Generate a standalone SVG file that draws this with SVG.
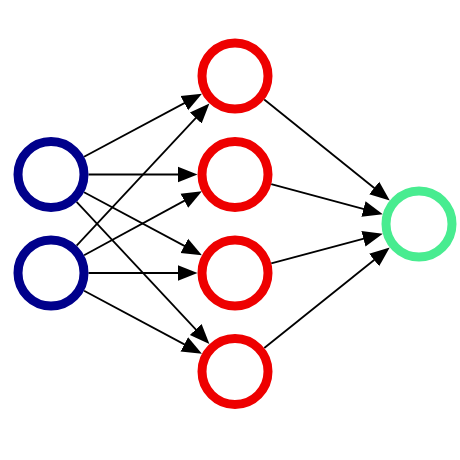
<svg xmlns="http://www.w3.org/2000/svg" width="460" height="460" viewBox="0 0 460 460">
<style>
.n{fill:#fff;stroke-width:9}
.in{stroke:#00008b}
.hid{stroke:#ee0000}
.out{stroke:#48ec90}
.e{stroke:#000;stroke-width:1.8;fill:none;marker-end:url(#ah)}
</style>
<defs>
<marker id="ah" markerUnits="userSpaceOnUse" markerWidth="22" markerHeight="18" viewBox="0 -9 22 18" refX="16" refY="0" orient="auto">
<path d="M0,-8 L20,0 L0,8 z" fill="#000"/>
</marker>
</defs>
<rect width="460" height="460" fill="#fff"/>
<g id="connectors">
<line class="e" x1="84.06" y1="156.80" x2="198.41" y2="95.59"/>
<line class="e" x1="88.5" y1="174.5" x2="193.5" y2="174.5"/>
<line class="e" x1="84.06" y1="192.20" x2="198.41" y2="253.41"/>
<line class="e" x1="76.60" y1="201.91" x2="206.67" y2="341.17"/>
<line class="e" x1="76.60" y1="245.59" x2="206.67" y2="106.33"/>
<line class="e" x1="84.06" y1="255.30" x2="198.41" y2="193.09"/>
<line class="e" x1="88.5" y1="273" x2="193.5" y2="273"/>
<line class="e" x1="84.06" y1="290.70" x2="198.41" y2="351.91"/>
<line class="e" x1="264.22" y1="99.50" x2="386.66" y2="197.99"/>
<line class="e" x1="271.21" y1="184.24" x2="378.92" y2="213.22"/>
<line class="e" x1="271.24" y1="263.35" x2="378.90" y2="234.68"/>
<line class="e" x1="264.26" y1="348.04" x2="386.62" y2="249.96"/>
</g>
<g id="in1"><circle class="n in" cx="51" cy="174.5" r="33"/></g>
<g id="in2"><circle class="n in" cx="51" cy="273" r="33"/></g>
<g id="h1"><circle class="n hid" cx="235" cy="76" r="33"/></g>
<g id="h2"><circle class="n hid" cx="235" cy="174.5" r="33"/></g>
<g id="h3"><circle class="n hid" cx="235" cy="273" r="33"/></g>
<g id="h4"><circle class="n hid" cx="235" cy="371.5" r="33"/></g>
<g id="out1"><circle class="n out" cx="419" cy="224" r="33"/></g>
</svg>
